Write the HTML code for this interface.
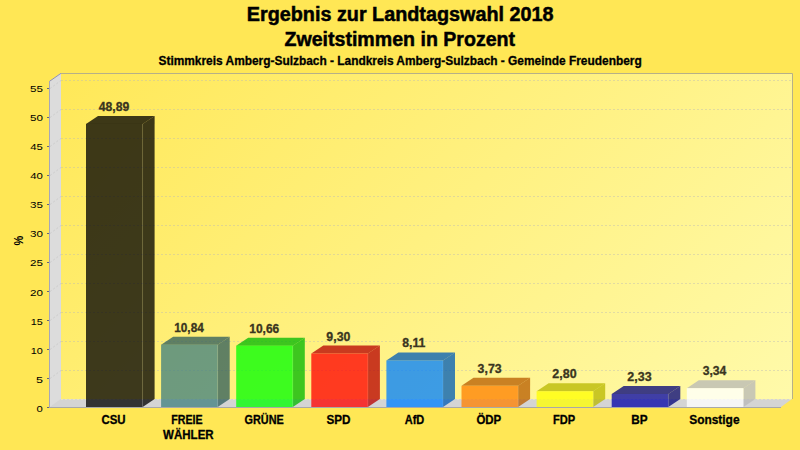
<!DOCTYPE html>
<html><head><meta charset="utf-8"><title>Landtagswahl 2018</title>
<style>
html,body{margin:0;padding:0;}
body{width:800px;height:450px;overflow:hidden;background:#ffe755;font-family:"Liberation Sans",sans-serif;}
svg{display:block;}
text{font-family:"Liberation Sans",sans-serif;}
.t1{font-size:20px;font-weight:bold;fill:#000;stroke:#000;stroke-width:0.5px;}
.t2{font-size:12px;font-weight:bold;fill:#000;stroke:#000;stroke-width:0.3px;}
.ax{font-size:9.4px;fill:#000;}
.pc{font-size:12px;font-weight:bold;fill:#000;}
.v{font-size:12px;font-weight:bold;fill:#3a3520;stroke:#3a3520;stroke-width:0.3px;}
.c{font-size:12px;font-weight:bold;fill:#000;stroke:#000;stroke-width:0.3px;}
</style></head><body>
<svg width="800" height="450" viewBox="0 0 800 450">
<defs>
<linearGradient id="bg" gradientUnits="userSpaceOnUse" x1="61" y1="73" x2="589.5" y2="601.5">
<stop offset="0" stop-color="#ffe858"/><stop offset="1" stop-color="#fffaaa"/>
</linearGradient>
</defs>
<rect x="0" y="0" width="800" height="450" fill="#ffe755"/>

<rect x="61" y="73" width="731" height="326" fill="url(#bg)"/>
<polygon points="50,81 61,73 61,399 64,399 53,407 50,407" fill="#d6d6d6"/>
<polygon points="50,81 61,73 61,399 50,407" fill="#dcdcdc"/>
<polygon points="50,407 781,407 792,399 61,399" fill="#d4d4d4"/>
<line x1="61" y1="370.5" x2="792" y2="370.5" stroke="#b8b8b8" stroke-opacity="0.42" stroke-width="1" stroke-dasharray="2 2"/>
<line x1="50" y1="378.5" x2="61" y2="370.5" stroke="#cccccc" stroke-width="1" stroke-dasharray="2 2"/>
<line x1="61" y1="341.5" x2="792" y2="341.5" stroke="#b8b8b8" stroke-opacity="0.42" stroke-width="1" stroke-dasharray="2 2"/>
<line x1="50" y1="349.5" x2="61" y2="341.5" stroke="#cccccc" stroke-width="1" stroke-dasharray="2 2"/>
<line x1="61" y1="312.5" x2="792" y2="312.5" stroke="#b8b8b8" stroke-opacity="0.42" stroke-width="1" stroke-dasharray="2 2"/>
<line x1="50" y1="320.5" x2="61" y2="312.5" stroke="#cccccc" stroke-width="1" stroke-dasharray="2 2"/>
<line x1="61" y1="283.5" x2="792" y2="283.5" stroke="#b8b8b8" stroke-opacity="0.42" stroke-width="1" stroke-dasharray="2 2"/>
<line x1="50" y1="291.5" x2="61" y2="283.5" stroke="#cccccc" stroke-width="1" stroke-dasharray="2 2"/>
<line x1="61" y1="254.5" x2="792" y2="254.5" stroke="#b8b8b8" stroke-opacity="0.42" stroke-width="1" stroke-dasharray="2 2"/>
<line x1="50" y1="262.5" x2="61" y2="254.5" stroke="#cccccc" stroke-width="1" stroke-dasharray="2 2"/>
<line x1="61" y1="225.5" x2="792" y2="225.5" stroke="#b8b8b8" stroke-opacity="0.42" stroke-width="1" stroke-dasharray="2 2"/>
<line x1="50" y1="233.5" x2="61" y2="225.5" stroke="#cccccc" stroke-width="1" stroke-dasharray="2 2"/>
<line x1="61" y1="196.5" x2="792" y2="196.5" stroke="#b8b8b8" stroke-opacity="0.42" stroke-width="1" stroke-dasharray="2 2"/>
<line x1="50" y1="204.5" x2="61" y2="196.5" stroke="#cccccc" stroke-width="1" stroke-dasharray="2 2"/>
<line x1="61" y1="167.5" x2="792" y2="167.5" stroke="#b8b8b8" stroke-opacity="0.42" stroke-width="1" stroke-dasharray="2 2"/>
<line x1="50" y1="175.5" x2="61" y2="167.5" stroke="#cccccc" stroke-width="1" stroke-dasharray="2 2"/>
<line x1="61" y1="138.5" x2="792" y2="138.5" stroke="#b8b8b8" stroke-opacity="0.42" stroke-width="1" stroke-dasharray="2 2"/>
<line x1="50" y1="146.5" x2="61" y2="138.5" stroke="#cccccc" stroke-width="1" stroke-dasharray="2 2"/>
<line x1="61" y1="109.5" x2="792" y2="109.5" stroke="#b8b8b8" stroke-opacity="0.42" stroke-width="1" stroke-dasharray="2 2"/>
<line x1="50" y1="117.5" x2="61" y2="109.5" stroke="#cccccc" stroke-width="1" stroke-dasharray="2 2"/>
<line x1="61" y1="80.5" x2="792" y2="80.5" stroke="#b8b8b8" stroke-opacity="0.42" stroke-width="1" stroke-dasharray="2 2"/>
<line x1="50" y1="88.5" x2="61" y2="80.5" stroke="#cccccc" stroke-width="1" stroke-dasharray="2 2"/>
<polyline points="61,73.5 792.5,73.5 792.5,399" fill="none" stroke="#b6b088" stroke-width="1"/>
<line x1="61" y1="399.5" x2="792" y2="399.5" stroke="#e8e4c0" stroke-width="1" stroke-dasharray="2 2"/>
<line x1="49.5" y1="81.3" x2="61" y2="73.3" stroke="#9494ac" stroke-width="1"/>
<line x1="49.5" y1="81" x2="49.5" y2="408" stroke="#a6a6b6" stroke-width="1"/>
<line x1="47" y1="407.5" x2="781" y2="407.5" stroke="#a8a8a8" stroke-width="1"/>
<line x1="47" y1="407.5" x2="49" y2="407.5" stroke="#666677" stroke-width="1"/>
<text class="ax" x="36.40" y="411.80" textLength="6.26" lengthAdjust="spacingAndGlyphs">0</text>
<line x1="47" y1="378.5" x2="49" y2="378.5" stroke="#666677" stroke-width="1"/>
<text class="ax" x="36.03" y="382.73" textLength="7.00" lengthAdjust="spacingAndGlyphs">5</text>
<line x1="47" y1="349.5" x2="49" y2="349.5" stroke="#666677" stroke-width="1"/>
<text class="ax" x="30.83" y="353.66" textLength="12.07" lengthAdjust="spacingAndGlyphs">10</text>
<line x1="47" y1="320.5" x2="49" y2="320.5" stroke="#666677" stroke-width="1"/>
<text class="ax" x="30.83" y="324.59" textLength="12.07" lengthAdjust="spacingAndGlyphs">15</text>
<line x1="47" y1="291.5" x2="49" y2="291.5" stroke="#666677" stroke-width="1"/>
<text class="ax" x="29.98" y="295.52" textLength="12.96" lengthAdjust="spacingAndGlyphs">20</text>
<line x1="47" y1="262.5" x2="49" y2="262.5" stroke="#666677" stroke-width="1"/>
<text class="ax" x="29.98" y="266.45" textLength="12.96" lengthAdjust="spacingAndGlyphs">25</text>
<line x1="47" y1="233.5" x2="49" y2="233.5" stroke="#666677" stroke-width="1"/>
<text class="ax" x="29.98" y="237.38" textLength="12.96" lengthAdjust="spacingAndGlyphs">30</text>
<line x1="47" y1="204.5" x2="49" y2="204.5" stroke="#666677" stroke-width="1"/>
<text class="ax" x="29.98" y="208.31" textLength="12.96" lengthAdjust="spacingAndGlyphs">35</text>
<line x1="47" y1="175.5" x2="49" y2="175.5" stroke="#666677" stroke-width="1"/>
<text class="ax" x="30.30" y="179.24" textLength="12.63" lengthAdjust="spacingAndGlyphs">40</text>
<line x1="47" y1="146.5" x2="49" y2="146.5" stroke="#666677" stroke-width="1"/>
<text class="ax" x="30.30" y="150.17" textLength="12.63" lengthAdjust="spacingAndGlyphs">45</text>
<line x1="47" y1="117.5" x2="49" y2="117.5" stroke="#666677" stroke-width="1"/>
<text class="ax" x="29.98" y="121.10" textLength="12.96" lengthAdjust="spacingAndGlyphs">50</text>
<line x1="47" y1="88.5" x2="49" y2="88.5" stroke="#666677" stroke-width="1"/>
<text class="ax" x="29.98" y="92.03" textLength="12.96" lengthAdjust="spacingAndGlyphs">55</text>
<text class="pc" transform="translate(23.0,245.6) rotate(-90)" textLength="9.7" lengthAdjust="spacingAndGlyphs">%</text>
<polygon points="86.0,123.94 142.6,123.94 154.6,115.94 98.0,115.94" fill="#000000" fill-opacity="0.76"/>
<polygon points="142.6,123.94 154.6,115.94 154.6,399 142.6,407" fill="#000000" fill-opacity="0.76"/>
<rect x="86.0" y="123.94" width="56.6" height="283.06" fill="#000000" fill-opacity="0.76"/>
<line x1="142.6" y1="123.94" x2="142.6" y2="407" stroke="#ffffff" stroke-opacity="0.10" stroke-width="1"/>
<text class="v" x="98.75" y="110.94" textLength="30.54" lengthAdjust="spacingAndGlyphs">48,89</text>
<text class="c" x="101.42" y="423.75" textLength="24.14" lengthAdjust="spacingAndGlyphs">CSU</text>
<polygon points="161.1,344.63 217.7,344.63 229.7,336.63 173.1,336.63" fill="#2e5c5c" fill-opacity="0.76"/>
<polygon points="217.7,344.63 229.7,336.63 229.7,399 217.7,407" fill="#2e5c5c" fill-opacity="0.76"/>
<rect x="161.1" y="344.63" width="56.6" height="62.37" fill="#408080" fill-opacity="0.76"/>
<line x1="217.7" y1="344.63" x2="217.7" y2="407" stroke="#ffffff" stroke-opacity="0.10" stroke-width="1"/>
<text class="v" x="174.26" y="331.63" textLength="29.52" lengthAdjust="spacingAndGlyphs">10,84</text>
<text class="c" x="171.24" y="423.75" textLength="31.32" lengthAdjust="spacingAndGlyphs">FREIE</text>
<text class="c" x="163.10" y="438.75" textLength="50.57" lengthAdjust="spacingAndGlyphs">WÄHLER</text>
<polygon points="236.2,345.67 292.8,345.67 304.8,337.67 248.2,337.67" fill="#00b800" fill-opacity="0.76"/>
<polygon points="292.8,345.67 304.8,337.67 304.8,399 292.8,407" fill="#00b800" fill-opacity="0.76"/>
<rect x="236.2" y="345.67" width="56.6" height="61.33" fill="#00ff00" fill-opacity="0.76"/>
<line x1="292.8" y1="345.67" x2="292.8" y2="407" stroke="#ffffff" stroke-opacity="0.10" stroke-width="1"/>
<text class="v" x="249.25" y="332.67" textLength="30.03" lengthAdjust="spacingAndGlyphs">10,66</text>
<text class="c" x="244.55" y="423.75" textLength="39.16" lengthAdjust="spacingAndGlyphs">GRÜNE</text>
<polygon points="311.29999999999995,353.56 367.9,353.56 379.9,345.56 323.29999999999995,345.56" fill="#b80000" fill-opacity="0.76"/>
<polygon points="367.9,353.56 379.9,345.56 379.9,399 367.9,407" fill="#b80000" fill-opacity="0.76"/>
<rect x="311.29999999999995" y="353.56" width="56.6" height="53.44" fill="#ff0000" fill-opacity="0.76"/>
<line x1="367.9" y1="353.56" x2="367.9" y2="407" stroke="#ffffff" stroke-opacity="0.10" stroke-width="1"/>
<text class="v" x="326.39" y="340.56" textLength="23.98" lengthAdjust="spacingAndGlyphs">9,30</text>
<text class="c" x="326.41" y="423.75" textLength="24.01" lengthAdjust="spacingAndGlyphs">SPD</text>
<polygon points="386.4,360.46 443.0,360.46 455.0,352.46 398.4,352.46" fill="#005cb8" fill-opacity="0.76"/>
<polygon points="443.0,360.46 455.0,352.46 455.0,399 443.0,407" fill="#005cb8" fill-opacity="0.76"/>
<rect x="386.4" y="360.46" width="56.6" height="46.54" fill="#0080ff" fill-opacity="0.76"/>
<line x1="443.0" y1="360.46" x2="443.0" y2="407" stroke="#ffffff" stroke-opacity="0.10" stroke-width="1"/>
<text class="v" x="402.24" y="347.46" textLength="23.22" lengthAdjust="spacingAndGlyphs">8,11</text>
<text class="c" x="404.77" y="423.75" textLength="19.53" lengthAdjust="spacingAndGlyphs">AfD</text>
<polygon points="461.5,385.87 518.1,385.87 530.1,377.87 473.5,377.87" fill="#b85c00" fill-opacity="0.76"/>
<polygon points="518.1,385.87 530.1,377.87 530.1,399 518.1,407" fill="#b85c00" fill-opacity="0.76"/>
<rect x="461.5" y="385.87" width="56.6" height="21.13" fill="#ff8000" fill-opacity="0.76"/>
<line x1="518.1" y1="385.87" x2="518.1" y2="407" stroke="#ffffff" stroke-opacity="0.10" stroke-width="1"/>
<text class="v" x="477.64" y="372.87" textLength="23.98" lengthAdjust="spacingAndGlyphs">3,73</text>
<text class="c" x="476.42" y="423.75" textLength="24.83" lengthAdjust="spacingAndGlyphs">ÖDP</text>
<polygon points="536.5999999999999,391.26 593.1999999999999,391.26 605.1999999999999,383.26 548.5999999999999,383.26" fill="#b8b800" fill-opacity="0.76"/>
<polygon points="593.1999999999999,391.26 605.1999999999999,383.26 605.1999999999999,399 593.1999999999999,407" fill="#b8b800" fill-opacity="0.76"/>
<rect x="536.5999999999999" y="391.26" width="56.6" height="15.74" fill="#ffff00" fill-opacity="0.76"/>
<line x1="593.2" y1="391.26" x2="593.2" y2="407" stroke="#ffffff" stroke-opacity="0.10" stroke-width="1"/>
<text class="v" x="552.38" y="378.26" textLength="24.24" lengthAdjust="spacingAndGlyphs">2,80</text>
<text class="c" x="553.06" y="423.75" textLength="22.17" lengthAdjust="spacingAndGlyphs">FDP</text>
<polygon points="611.6999999999999,393.99 668.3,393.99 680.3,385.99 623.6999999999999,385.99" fill="#030379" fill-opacity="0.76"/>
<polygon points="668.3,393.99 680.3,385.99 680.3,399 668.3,407" fill="#030379" fill-opacity="0.76"/>
<rect x="611.6999999999999" y="393.99" width="56.6" height="13.01" fill="#0404a8" fill-opacity="0.76"/>
<line x1="668.3" y1="393.99" x2="668.3" y2="407" stroke="#ffffff" stroke-opacity="0.10" stroke-width="1"/>
<text class="v" x="627.38" y="380.99" textLength="24.24" lengthAdjust="spacingAndGlyphs">2,33</text>
<text class="c" x="631.16" y="423.75" textLength="16.35" lengthAdjust="spacingAndGlyphs">BP</text>
<polygon points="686.8,388.13 743.4,388.13 755.4,380.13 698.8,380.13" fill="#b8b8b8" fill-opacity="0.76"/>
<polygon points="743.4,388.13 755.4,380.13 755.4,399 743.4,407" fill="#b8b8b8" fill-opacity="0.76"/>
<rect x="686.8" y="388.13" width="56.6" height="18.87" fill="#ffffff" fill-opacity="0.76"/>
<line x1="743.4" y1="388.13" x2="743.4" y2="407" stroke="#ffffff" stroke-opacity="0.10" stroke-width="1"/>
<text class="v" x="702.65" y="375.13" textLength="23.71" lengthAdjust="spacingAndGlyphs">3,34</text>
<text class="c" x="689.25" y="423.75" textLength="50.26" lengthAdjust="spacingAndGlyphs">Sonstige</text>
<text class="t1" x="246.76" y="20.50" textLength="306.82" lengthAdjust="spacingAndGlyphs">Ergebnis zur Landtagswahl 2018</text>
<text class="t1" x="284.51" y="45.70" textLength="230.58" lengthAdjust="spacingAndGlyphs">Zweitstimmen in Prozent</text>
<text class="t2" x="158.50" y="64.50" textLength="483.21" lengthAdjust="spacingAndGlyphs">Stimmkreis Amberg-Sulzbach - Landkreis Amberg-Sulzbach - Gemeinde Freudenberg</text>
</svg></body></html>
